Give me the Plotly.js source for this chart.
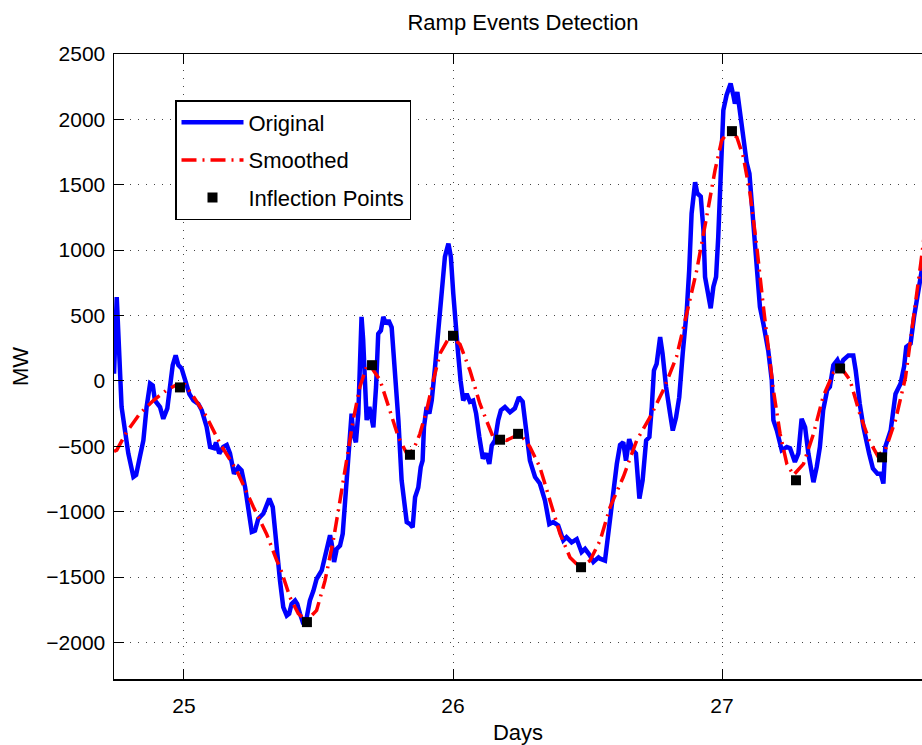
<!DOCTYPE html>
<html>
<head>
<meta charset="utf-8">
<script src="https://cdn.plot.ly/plotly-3.0.1.min.js"></script>
<style>html,body{margin:0;padding:0;background:#fff;}</style>
</head>
<body>
<div id="chart" style="width:922px;height:745px;"></div>
<script>
// Original series (days, MW)
var origDays = [24.740,24.750,24.768,24.781,24.793,24.812,24.822,24.836,24.849,24.861,24.874,24.884,24.892,24.911,24.923,24.938,24.951,24.958,24.969,24.979,24.991,25.004,25.020,25.035,25.053,25.066,25.084,25.097,25.112,25.119,25.131,25.146,25.159,25.171,25.186,25.202,25.214,25.227,25.239,25.252,25.264,25.276,25.295,25.317,25.330,25.341,25.351,25.357,25.369,25.382,25.391,25.400,25.413,25.421,25.431,25.444,25.456,25.468,25.481,25.493,25.512,25.524,25.533,25.543,25.549,25.558,25.568,25.580,25.590,25.599,25.607,25.617,25.623,25.629,25.639,25.648,25.654,25.660,25.666,25.673,25.679,25.689,25.698,25.704,25.714,25.722,25.732,25.741,25.751,25.760,25.772,25.784,25.797,25.809,25.815,25.828,25.840,25.850,25.859,25.871,25.880,25.887,25.892,25.902,25.912,25.921,25.933,25.939,25.952,25.962,25.970,25.983,25.992,26.001,26.011,26.019,26.028,26.038,26.051,26.063,26.075,26.086,26.098,26.111,26.123,26.135,26.144,26.156,26.168,26.178,26.193,26.212,26.230,26.245,26.259,26.274,26.286,26.305,26.323,26.342,26.358,26.373,26.391,26.410,26.422,26.441,26.460,26.478,26.491,26.509,26.522,26.541,26.547,26.565,26.571,26.584,26.596,26.609,26.621,26.633,26.643,26.655,26.668,26.680,26.693,26.705,26.718,26.730,26.739,26.747,26.757,26.770,26.779,26.792,26.807,26.817,26.829,26.841,26.854,26.869,26.878,26.887,26.900,26.908,26.921,26.931,26.937,26.949,26.958,26.968,26.978,26.986,26.995,27.005,27.017,27.032,27.042,27.048,27.057,27.067,27.079,27.092,27.102,27.110,27.123,27.133,27.141,27.154,27.172,27.185,27.191,27.204,27.222,27.241,27.253,27.271,27.284,27.296,27.309,27.321,27.340,27.352,27.364,27.376,27.391,27.401,27.414,27.429,27.439,27.451,27.470,27.488,27.497,27.512,27.526,27.547,27.561,27.578,27.590,27.600,27.602,27.607,27.627,27.645,27.664,27.677,27.685,27.701,27.714,27.726,27.739,27.751];
var origMW = [55,640,-200,-400,-555,-735,-720,-580,-455,-200,-20,-35,-150,-200,-290,-210,60,120,195,120,95,0,-100,-150,-175,-225,-350,-505,-515,-470,-555,-505,-490,-555,-710,-660,-685,-810,-990,-1155,-1145,-1055,-1015,-900,-965,-1220,-1400,-1530,-1730,-1795,-1780,-1705,-1680,-1705,-1780,-1860,-1810,-1680,-1605,-1515,-1450,-1350,-1285,-1180,-1245,-1385,-1285,-1260,-1170,-890,-710,-355,-250,-405,-470,-250,160,490,315,-45,-300,-200,-275,-355,-45,360,385,490,435,465,410,80,-300,-760,-865,-1080,-1095,-1120,-890,-815,-660,-610,-355,-200,-250,-150,100,250,480,720,950,1050,950,670,360,210,5,-150,-100,-160,-150,-250,-430,-595,-555,-635,-495,-455,-300,-225,-200,-240,-210,-125,-160,-430,-610,-735,-785,-915,-1095,-1080,-1105,-1220,-1195,-1235,-1210,-1310,-1285,-1335,-1385,-1350,-1360,-1375,-1270,-1015,-820,-635,-490,-470,-610,-445,-530,-555,-900,-760,-455,-430,-200,80,130,335,210,-45,-250,-380,-280,-125,210,540,845,1280,1520,1435,1410,1155,795,640,555,720,795,1100,1665,2070,2185,2275,2185,2120,2210,2070,1865,1665,1585,1355,1050,770,565,435,230,5,-300,-380,-530,-505,-515,-620,-555,-290,-355,-555,-775,-660,-505,-225,-70,-45,120,160,110,160,195,195,80,-175,-355,-555,-670,-710,-710,-785,-635,-505,-380,-100,-20,110,260,285,490,640,795,950];

// Smoothed series (days, MW)
var smoothDays = [24.740,24.750,24.787,24.836,24.886,24.936,24.973,25.004,25.035,25.084,25.134,25.196,25.258,25.307,25.345,25.357,25.394,25.425,25.456,25.493,25.524,25.555,25.580,25.605,25.629,25.654,25.679,25.692,25.704,25.729,25.766,25.797,25.828,25.852,25.877,25.902,25.927,25.952,25.989,26.026,26.063,26.100,26.149,26.199,26.249,26.286,26.323,26.361,26.398,26.435,26.472,26.509,26.547,26.584,26.633,26.683,26.732,26.782,26.831,26.869,26.906,26.943,26.974,26.999,27.024,27.055,27.079,27.104,27.128,27.154,27.172,27.191,27.216,27.241,27.266,27.303,27.340,27.376,27.414,27.445,27.476,27.512,27.547,27.578,27.607,27.645,27.682,27.719,27.739,27.751];
var smoothMW = [-540,-530,-390,-250,-150,-70,-30,-30,-120,-275,-480,-685,-965,-1170,-1375,-1425,-1655,-1780,-1835,-1755,-1530,-1220,-915,-610,-300,-45,110,125,80,5,-225,-430,-555,-530,-405,-225,5,210,345,280,80,-175,-430,-455,-405,-505,-660,-915,-1170,-1350,-1425,-1375,-1220,-965,-735,-455,-280,-70,185,515,845,1255,1610,1840,1905,1865,1715,1435,1050,565,230,-70,-405,-635,-720,-635,-405,-120,60,95,5,-250,-455,-570,-530,-300,25,565,900,1100];

// Inflection points (days, MW)
var inflDays = [24.985,25.457,25.699,25.840,26.000,26.175,26.242,26.476,27.037,27.275,27.439,27.595];
var inflMW = [-50,-1845,120,-565,345,-450,-405,-1425,1910,-760,95,-585];

var xTicks = [25,26,27];
var yTicks = [-2000,-1500,-1000,-500,0,500,1000,1500,2000,2500];

var FONT = 'Liberation Sans, Arial, Helvetica, sans-serif';

var traces = [
  {x: origDays, y: origMW, type: 'scatter', mode: 'lines', name: 'Original',
   legendgroup: 'a', line: {color: '#0000ff', width: 4.5}},
  {x: smoothDays, y: smoothMW, type: 'scatter', mode: 'lines', name: 'Smoothed',
   legendgroup: 'b', line: {color: '#ff0000', width: 3.5, dash: '15px,6px,2px,6px'}},
  {x: inflDays, y: inflMW, type: 'scatter', mode: 'markers', name: 'Inflection Points',
   legendgroup: 'c', marker: {symbol: 'square', color: '#000000', size: 10}}
];

var layout = {
  width: 922, height: 745,
  margin: {l: 114, r: 0, t: 54, b: 66, pad: 0},
  paper_bgcolor: '#ffffff', plot_bgcolor: '#ffffff',
  font: {family: FONT, color: '#000000'},
  title: {text: 'Ramp Events Detection', font: {size: 22, family: FONT, color: '#000'},
          x: 523/922, xref: 'container', xanchor: 'center', y: 1 - 22/745, yref: 'container', yanchor: 'middle'},
  showlegend: true,
  legend: {x: (175-114)/808, y: (679-100)/625, xanchor: 'left', yanchor: 'top',
           bgcolor: '#ffffff', bordercolor: '#000000', borderwidth: 1.5, itemwidth: 62,
           font: {size: 22, family: FONT, color: '#000'}, traceorder: 'grouped', tracegroupgap: 6},
  xaxis: {
    range: [24.7398, 27.7435], tickvals: xTicks, ticktext: xTicks.map(String),
    ticks: 'inside', ticklen: 10, tickwidth: 1, tickcolor: '#000',
    showline: true, linecolor: '#000', linewidth: 1.5, mirror: 'ticks',
    showgrid: true, gridcolor: '#444', griddash: '1px,7px', gridwidth: 1,
    zeroline: false, tickfont: {size: 21, family: FONT, color: '#000'},
    ticklabelstandoff: 7,
    title: {text: 'Days', font: {size: 22, family: FONT, color: '#000'}, standoff: 9}
  },
  yaxis: {
    range: [-2280, 2500], tickvals: yTicks, ticktext: yTicks.map(function(v){return v < 0 ? '\u2212' + Math.abs(v) : String(v);}),
    ticks: 'inside', ticklen: 10, tickwidth: 1, tickcolor: '#000',
    showline: true, linecolor: '#000', linewidth: 1.5, mirror: false,
    showgrid: true, gridcolor: '#444', griddash: '1px,7px', gridwidth: 1,
    zeroline: false, tickfont: {size: 21, family: FONT, color: '#000'},
    ticklabelstandoff: 3,
    title: {text: 'MW', font: {size: 22, family: FONT, color: '#000'}, standoff: 11}
  }
};

Plotly.newPlot('chart', traces, layout, {displayModeBar: false, staticPlot: true});
</script>
</body>
</html>
